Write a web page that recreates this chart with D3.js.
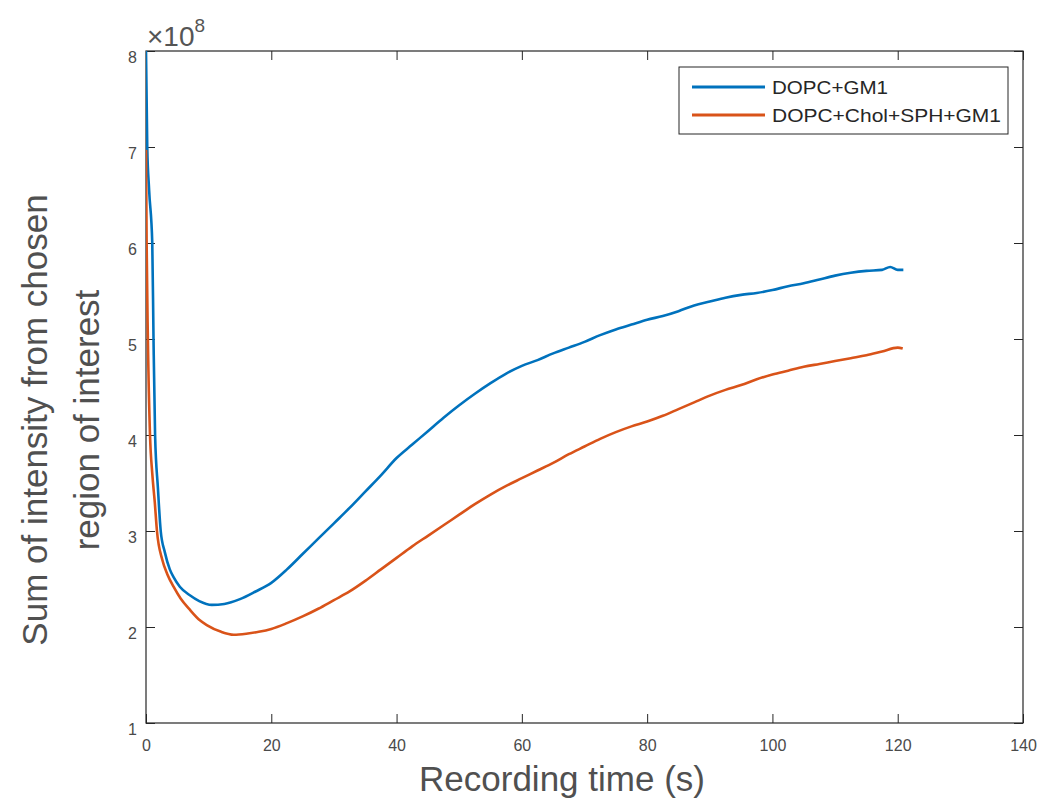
<!DOCTYPE html>
<html>
<head>
<meta charset="utf-8">
<script src="https://cdn.jsdelivr.net/npm/d3@7"></script>
<style>
  html, body { margin: 0; padding: 0; background: #ffffff; }
  svg { display: block; }
  text { font-family: "Liberation Sans", Arial, sans-serif; }
</style>
</head>
<body>
<svg id="chart" width="1040" height="803"></svg>
<script>
// ---- Data (values in units of 1e8) ----
const seriesNames = ["DOPC+GM1", "DOPC+Chol+SPH+GM1"];

const blueTime = [0, 0.2, 0.5, 1.0, 1.2, 1.45, 1.9, 2.35, 3.0, 3.8, 4.4, 5.4, 7.0, 8.5, 10.5, 12.5, 15, 17.5, 20, 22.5, 25, 27.5, 30, 32.5, 35, 37.5, 40, 42.5, 45, 47.5, 50, 52.5, 55, 57.5, 60, 62.5, 65, 67.5, 70, 72.5, 75, 77.5, 80, 82.5, 85, 87.5, 90, 92.5, 95, 97.5, 100, 102.5, 105, 107.5, 110, 112.5, 115, 117.5, 118.8, 120, 120.9];
const blueValue = [8.0, 7.0, 6.55, 6.0, 5.0, 4.0, 3.45, 3.0, 2.78, 2.6, 2.52, 2.42, 2.33, 2.27, 2.23, 2.24, 2.29, 2.37, 2.46, 2.60, 2.76, 2.92, 3.08, 3.24, 3.41, 3.58, 3.76, 3.90, 4.04, 4.18, 4.31, 4.43, 4.54, 4.64, 4.72, 4.78, 4.85, 4.91, 4.97, 5.04, 5.10, 5.15, 5.20, 5.24, 5.29, 5.35, 5.39, 5.43, 5.46, 5.48, 5.51, 5.55, 5.58, 5.62, 5.66, 5.69, 5.71, 5.72, 5.75, 5.72, 5.72];

const orangeTime = [0, 0.1, 0.3, 0.64, 1.0, 1.4, 1.75, 2.6, 3.4, 4.4, 5.5, 7.0, 8.6, 9.7, 12, 14, 16, 18, 20, 22.5, 25, 27.5, 30, 32.5, 35, 37.5, 40, 42.5, 45, 47.5, 50, 52.5, 55, 57.5, 60, 62.5, 65, 67.5, 70, 72.5, 75, 77.5, 80, 82.5, 85, 87.5, 90, 92.5, 95, 97.5, 100, 102.5, 105, 107.5, 110, 112.5, 115, 117.5, 120, 120.8];
const orangeValue = [6.97, 6.0, 5.0, 4.0, 3.6, 3.3, 3.0, 2.7, 2.55, 2.42, 2.3, 2.18, 2.07, 2.02, 1.95, 1.92, 1.93, 1.95, 1.98, 2.04, 2.11, 2.19, 2.28, 2.37, 2.48, 2.60, 2.72, 2.84, 2.95, 3.06, 3.17, 3.28, 3.38, 3.47, 3.55, 3.63, 3.71, 3.80, 3.88, 3.96, 4.03, 4.09, 4.14, 4.20, 4.27, 4.34, 4.41, 4.47, 4.52, 4.58, 4.63, 4.67, 4.71, 4.74, 4.77, 4.80, 4.83, 4.87, 4.91, 4.90];

const xTicks = [0, 20, 40, 60, 80, 100, 120, 140];
const yTicks = [1, 2, 3, 4, 5, 6, 7, 8];
const xDomain = [0, 140];
const yDomain = [1, 8];

const colors = ["#0072BD", "#D95319"];

// ---- Layout ----
const svg = d3.select("#chart");
const plot = { left: 146, right: 1023, top: 51, bottom: 723 };

const x = d3.scaleLinear().domain(xDomain).range([plot.left, plot.right]);
const y = d3.scaleLinear().domain(yDomain).range([plot.bottom, plot.top]);

svg.append("rect").attr("width", 1040).attr("height", 803).attr("fill", "#fff");

svg.append("defs").append("clipPath").attr("id", "clip")
  .append("rect")
  .attr("x", plot.left).attr("y", plot.top)
  .attr("width", plot.right - plot.left).attr("height", plot.bottom - plot.top);

const axisColor = "#262626";
const labelColor = "#4a4a4a";

const gx = svg.append("g")
  .attr("transform", `translate(0,${plot.bottom})`)
  .call(d3.axisBottom(x).tickValues(xTicks).tickSizeInner(-9).tickSizeOuter(0).tickPadding(17).tickFormat(d3.format("d")));
const gxt = svg.append("g")
  .attr("transform", `translate(0,${plot.top})`)
  .call(d3.axisTop(x).tickValues(xTicks).tickSizeInner(-9).tickSizeOuter(0).tickFormat(""));
const gy = svg.append("g")
  .attr("transform", `translate(${plot.left},0)`)
  .call(d3.axisLeft(y).tickValues(yTicks).tickSizeInner(-9).tickSizeOuter(0).tickPadding(9).tickFormat(d3.format("d")));
const gyr = svg.append("g")
  .attr("transform", `translate(${plot.right},0)`)
  .call(d3.axisRight(y).tickValues(yTicks).tickSizeInner(-9).tickSizeOuter(0).tickFormat(""));

[gx, gxt, gy, gyr].forEach(g => {
  g.select(".domain").remove();
  g.selectAll(".tick line").attr("stroke", axisColor).attr("stroke-width", 1);
  g.selectAll(".tick text").attr("fill", labelColor).style("font-size", "16px")
    .style("font-family", "'Liberation Sans', Arial, sans-serif");
});
gy.selectAll(".tick text").attr("transform", "translate(0,6)");

svg.append("rect")
  .attr("x", plot.left).attr("y", plot.top)
  .attr("width", plot.right - plot.left).attr("height", plot.bottom - plot.top)
  .attr("fill", "none").attr("stroke", axisColor).attr("stroke-width", 1.2);

const line = d3.line()
  .x(d => x(d[0])).y(d => y(d[1]))
  .curve(d3.curveMonotoneX);

const series = [
  d3.zip(blueTime, blueValue),
  d3.zip(orangeTime, orangeValue)
];

svg.append("g").attr("clip-path", "url(#clip)")
  .selectAll("path").data(series).join("path")
  .attr("d", line)
  .attr("fill", "none")
  .attr("stroke", (d, i) => colors[i])
  .attr("stroke-width", 2.6)
  .attr("stroke-linejoin", "round");

const expText = svg.append("text")
  .attr("x", 147).attr("y", 46)
  .attr("fill", "#555")
  .style("font-size", "28px");
expText.append("tspan").text("×10");
expText.append("tspan").attr("dy", -14).style("font-size", "19px").text("8");

svg.append("text")
  .attr("x", 562).attr("y", 791)
  .attr("text-anchor", "middle")
  .attr("fill", "#505050")
  .style("font-size", "35px")
  .text("Recording time (s)");

const yTitleLines = ["Sum of intensity from chosen", "region of interest"];
const yTitleX = [47, 99];
yTitleLines.forEach((t, i) => {
  svg.append("text")
    .attr("transform", `translate(${yTitleX[i]},420) rotate(-90)`)
    .attr("text-anchor", "middle")
    .attr("fill", "#505050")
    .style("font-size", "35px")
    .text(t);
});

const legend = svg.append("g");
legend.append("rect")
  .attr("x", 679).attr("y", 67).attr("width", 329).attr("height", 67)
  .attr("fill", "#fff").attr("stroke", axisColor).attr("stroke-width", 1);
const legendRows = [87, 115];
const legendTextWidths = [116, 229];
seriesNames.forEach((name, i) => {
  legend.append("line")
    .attr("x1", 692).attr("x2", 765)
    .attr("y1", legendRows[i]).attr("y2", legendRows[i])
    .attr("stroke", colors[i]).attr("stroke-width", 2.8);
  legend.append("text")
    .attr("x", 772).attr("y", legendRows[i] + 7)
    .attr("fill", "#262626")
    .attr("textLength", legendTextWidths[i])
    .attr("lengthAdjust", "spacingAndGlyphs")
    .style("font-size", "19px")
    .text(name);
});
</script>
</body>
</html>
